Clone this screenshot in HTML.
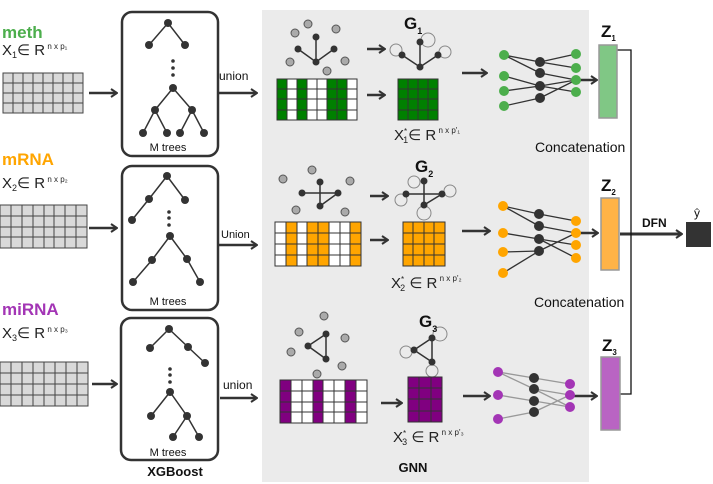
<!DOCTYPE html>
<html><head><meta charset="utf-8"><style>body{margin:0;background:#fff}svg{display:block;font-family:"Liberation Sans",sans-serif}</style></head><body>
<svg width="713" height="484" viewBox="0 0 713 484" xmlns="http://www.w3.org/2000/svg">
<defs>
<marker id="ah" markerWidth="8" markerHeight="10" refX="7" refY="5" orient="auto" markerUnits="userSpaceOnUse"><path d="M1,1 L7,5 L1,9" fill="none" stroke="#333" stroke-width="2"/></marker>
</defs>
<rect x="262" y="10" width="327" height="472" fill="#ebebeb"/>

<text x="2" y="38" font-size="17" font-weight="bold" fill="#4cae4c">meth</text>
<text x="2" y="55" font-size="15" fill="#222">X<tspan font-size="9" dy="3">1</tspan><tspan dy="-3">∈ R</tspan><tspan font-size="8" dy="-6"> n x p₁</tspan></text>
<text x="2" y="165" font-size="17" font-weight="bold" fill="#ffa500">mRNA</text>
<text x="2" y="188" font-size="15" fill="#222">X<tspan font-size="9" dy="3">2</tspan><tspan dy="-3">∈ R</tspan><tspan font-size="8" dy="-6"> n x p₂</tspan></text>
<text x="2" y="315" font-size="17" font-weight="bold" fill="#a335b5">miRNA</text>
<text x="2" y="338" font-size="15" fill="#222">X<tspan font-size="9" dy="3">3</tspan><tspan dy="-3">∈ R</tspan><tspan font-size="8" dy="-6"> n x p₃</tspan></text>

<g stroke="#444" stroke-width="1" fill="#d9d9d9">
<rect x="3" y="73" width="80" height="40"/>
<rect x="0" y="205" width="87" height="43"/>
<rect x="0" y="362" width="88" height="44"/>
</g>
<g stroke="#444" stroke-width="1">
<path d="M13,73V113M23,73V113M33,73V113M43,73V113M53,73V113M63,73V113M73,73V113M3,83H83M3,93H83M3,103H83"/>
<path d="M11,205V248M22,205V248M33,205V248M44,205V248M54,205V248M65,205V248M76,205V248M0,216H87M0,227H87M0,237H87"/>
<path d="M11,362V406M22,362V406M33,362V406M44,362V406M55,362V406M66,362V406M77,362V406M0,373H88M0,384H88M0,395H88"/>
</g>

<g stroke="#333" stroke-width="2.5" fill="none" marker-end="url(#ah)">
<path d="M89,93H117"/><path d="M89,228H117"/><path d="M92,384H117"/>
<path d="M218,93H257"/><path d="M218,245H257"/><path d="M220,398H257"/>
<path d="M367,49H385"/><path d="M367,95H385"/>
<path d="M370,240H388"/><path d="M370,196H388"/>
<path d="M381,403H402"/>
<path d="M462,73H487"/><path d="M462,231H490"/><path d="M463,396H490"/>
<path d="M580,80H597"/><path d="M580,233H598"/><path d="M574,396H597"/>
<path d="M620,234H682" stroke-width="3"/>
</g>
<text x="219" y="80" font-size="12" fill="#111">union</text>
<text x="221" y="238" font-size="11" fill="#111">Union</text>
<text x="223" y="389" font-size="12" fill="#111">union</text>

<g fill="none" stroke="#333" stroke-width="2.5">
<rect x="122" y="12" width="96" height="144" rx="10"/>
<rect x="122" y="166" width="96" height="144" rx="10"/>
<rect x="121" y="318" width="97" height="142" rx="10"/>
</g>
<g stroke="#333" stroke-width="1.5" fill="none">
<path d="M149,45L168,23L185,45M155,110L173,88L192,110M143,133L155,110L167,133M180,133L192,110L204,133"/>
<path d="M132,220L149,199L167,176L185,200M152,260L170,236L187,259M133,282L152,260M200,282L187,259"/>
<path d="M150,348L169,329L188,347L205,363M151,416L170,392L187,416M173,437L187,416L199,437"/>
</g>
<g fill="#333">
<circle cx="168" cy="23" r="4"/><circle cx="149" cy="45" r="4"/><circle cx="185" cy="45" r="4"/>
<circle cx="173" cy="61" r="1.8"/><circle cx="173" cy="68" r="1.8"/><circle cx="173" cy="75" r="1.8"/>
<circle cx="173" cy="88" r="4"/><circle cx="155" cy="110" r="4"/><circle cx="192" cy="110" r="4"/>
<circle cx="143" cy="133" r="4"/><circle cx="167" cy="133" r="4"/><circle cx="180" cy="133" r="4"/><circle cx="204" cy="133" r="4"/>
<circle cx="167" cy="176" r="4"/><circle cx="149" cy="199" r="4"/><circle cx="185" cy="200" r="4"/><circle cx="132" cy="220" r="4"/>
<circle cx="169" cy="212" r="1.8"/><circle cx="169" cy="218" r="1.8"/><circle cx="169" cy="225" r="1.8"/>
<circle cx="170" cy="236" r="4"/><circle cx="152" cy="260" r="4"/><circle cx="187" cy="259" r="4"/><circle cx="133" cy="282" r="4"/><circle cx="200" cy="282" r="4"/>
<circle cx="169" cy="329" r="4"/><circle cx="150" cy="348" r="4"/><circle cx="188" cy="347" r="4"/><circle cx="205" cy="363" r="4"/>
<circle cx="170" cy="369" r="1.8"/><circle cx="170" cy="375" r="1.8"/><circle cx="170" cy="382" r="1.8"/>
<circle cx="170" cy="392" r="4"/><circle cx="151" cy="416" r="4"/><circle cx="187" cy="416" r="4"/><circle cx="173" cy="437" r="4"/><circle cx="199" cy="437" r="4"/>
</g>
<g font-size="11" fill="#111" text-anchor="middle">
<text x="168" y="151">M trees</text><text x="168" y="305">M trees</text><text x="168" y="456">M trees</text>
</g>
<text x="175" y="476" font-size="13" font-weight="bold" text-anchor="middle" fill="#111">XGBoost</text>

<g fill="#aaa" stroke="#555" stroke-width="1">
<circle cx="295" cy="33" r="4"/><circle cx="308" cy="24" r="4"/><circle cx="336" cy="29" r="4"/><circle cx="290" cy="62" r="4"/><circle cx="345" cy="61" r="4"/><circle cx="327" cy="71" r="4"/>
<circle cx="283" cy="179" r="4"/><circle cx="312" cy="170" r="4"/><circle cx="296" cy="210" r="4"/><circle cx="350" cy="181" r="4"/><circle cx="345" cy="212" r="4"/>
<circle cx="324" cy="316" r="4"/><circle cx="299" cy="332" r="4"/><circle cx="345" cy="338" r="4"/><circle cx="291" cy="352" r="4"/><circle cx="342" cy="366" r="4"/><circle cx="317" cy="374" r="4"/>
</g>
<g stroke="#333" stroke-width="1.5" fill="none">
<path d="M316,37V62M298,49L316,62L334,49"/>
<path d="M420,42V67M402,55L420,67L438,55"/>
<path d="M302,193H338M320,182V206L338,193"/>
<path d="M406,194H442M424,181V205L442,194"/>
<path d="M326,334L308,346L326,359Z"/>
<path d="M432,338L414,350L432,362Z"/>
</g>
<g stroke="#888" stroke-width="1" fill="none">
<circle cx="428" cy="40" r="7"/><circle cx="396" cy="50" r="6"/><circle cx="445" cy="52" r="6"/>
<circle cx="414" cy="182" r="6"/><circle cx="401" cy="200" r="6"/><circle cx="450" cy="191" r="6"/><circle cx="424" cy="213" r="7"/>
<circle cx="440" cy="334" r="7"/><circle cx="406" cy="352" r="6"/><circle cx="432" cy="371" r="6"/>
</g>
<g fill="#333">
<circle cx="316" cy="37" r="3.5"/><circle cx="298" cy="49" r="3.5"/><circle cx="334" cy="49" r="3.5"/><circle cx="316" cy="62" r="3.5"/>
<circle cx="420" cy="42" r="3.5"/><circle cx="402" cy="55" r="3.5"/><circle cx="438" cy="55" r="3.5"/><circle cx="420" cy="67" r="3.5"/>
<circle cx="320" cy="182" r="3.5"/><circle cx="302" cy="193" r="3.5"/><circle cx="338" cy="193" r="3.5"/><circle cx="320" cy="206" r="3.5"/>
<circle cx="424" cy="181" r="3.5"/><circle cx="406" cy="194" r="3.5"/><circle cx="442" cy="194" r="3.5"/><circle cx="424" cy="205" r="3.5"/>
<circle cx="326" cy="334" r="3.5"/><circle cx="308" cy="346" r="3.5"/><circle cx="326" cy="359" r="3.5"/>
<circle cx="432" cy="338" r="3.5"/><circle cx="414" cy="350" r="3.5"/><circle cx="432" cy="362" r="3.5"/>
</g>
<g font-size="17" font-weight="bold" fill="#111">
<text x="404" y="29">G<tspan font-size="9" dy="5">1</tspan></text>
<text x="415" y="172">G<tspan font-size="9" dy="5">2</tspan></text>
<text x="419" y="327">G<tspan font-size="9" dy="5">3</tspan></text>
</g>

<g stroke="#333" stroke-width="1">
<rect x="277" y="79" width="80" height="41" fill="#fff"/>
<g fill="#008000"><rect x="277" y="79" width="10" height="41"/><rect x="297" y="79" width="10" height="41"/><rect x="327" y="79" width="10" height="41"/><rect x="337" y="79" width="10" height="41"/></g>
<path d="M287,79V120M297,79V120M307,79V120M317,79V120M327,79V120M337,79V120M347,79V120M277,89H357M277,99H357M277,110H357" fill="none"/>
<rect x="398" y="79" width="40" height="41" fill="#008000"/>
<path d="M408,79V120M418,79V120M428,79V120M398,89H438M398,99H438M398,110H438" fill="none"/>

<rect x="275" y="222" width="86" height="44" fill="#fff"/>
<g fill="#ffa500"><rect x="286" y="222" width="11" height="44"/><rect x="307" y="222" width="11" height="44"/><rect x="318" y="222" width="11" height="44"/><rect x="350" y="222" width="11" height="44"/></g>
<path d="M286,222V266M297,222V266M307,222V266M318,222V266M329,222V266M340,222V266M350,222V266M275,233H361M275,244H361M275,255H361" fill="none"/>
<rect x="403" y="222" width="42" height="44" fill="#ffa500"/>
<path d="M413,222V266M424,222V266M434,222V266M403,233H445M403,244H445M403,255H445" fill="none"/>

<rect x="280" y="380" width="87" height="43" fill="#fff"/>
<g fill="#800080"><rect x="280" y="380" width="11" height="43"/><rect x="313" y="380" width="10" height="43"/><rect x="345" y="380" width="11" height="43"/></g>
<path d="M291,380V423M302,380V423M313,380V423M323,380V423M334,380V423M345,380V423M356,380V423M280,391H367M280,402H367M280,412H367" fill="none"/>
<rect x="408" y="377" width="34" height="45" fill="#800080"/>
<path d="M419,377V422M431,377V422M408,388H442M408,399H442M408,411H442" fill="none"/>
</g>
<g font-size="15" fill="#222">
<text x="394" y="140">X<tspan font-size="8" dy="-6">*</tspan><tspan font-size="9" dx="-4" dy="9">1</tspan><tspan dy="-3">∈ R</tspan><tspan font-size="8" dy="-7"> n x p'₁</tspan></text>
<text x="391" y="288">X<tspan font-size="8" dy="-6">*</tspan><tspan font-size="9" dx="-4" dy="9">2</tspan><tspan dy="-3"> ∈ R</tspan><tspan font-size="8" dy="-7"> n x p'₂</tspan></text>
<text x="393" y="442">X<tspan font-size="8" dy="-6">*</tspan><tspan font-size="9" dx="-4" dy="9">3</tspan><tspan dy="-3"> ∈ R</tspan><tspan font-size="8" dy="-7"> n x p'₃</tspan></text>
</g>
<text x="413" y="472" font-size="13" font-weight="bold" text-anchor="middle" fill="#111">GNN</text>

<g stroke="#333" stroke-width="1.3">
<path d="M504,55L540,73M504,55L540,62M504,76L540,86M504,91L540,86M504,106L540,98M540,62L576,54M540,62L576,68M540,73L576,80M540,86L576,80M540,86L576,92M540,98L576,80"/>
<path d="M503,206L539,214M503,206L539,226M503,233L539,239M503,252L539,251M503,273L539,251M539,214L576,221M539,226L576,233M539,239L576,258M539,239L576,245M539,251L576,233"/>
</g>
<g stroke="#999" stroke-width="1.3">
<path d="M498,372L534,378M498,372L534,389M498,395L534,401M498,419L534,412M534,378L570,384M534,389L570,395M534,401L570,407M534,412L570,395M534,389L570,407"/>
</g>
<g fill="#4cae4c"><circle cx="504" cy="55" r="5"/><circle cx="504" cy="76" r="5"/><circle cx="504" cy="91" r="5"/><circle cx="504" cy="106" r="5"/><circle cx="576" cy="54" r="5"/><circle cx="576" cy="68" r="5"/><circle cx="576" cy="80" r="5"/><circle cx="576" cy="92" r="5"/></g>
<g fill="#ffa500"><circle cx="503" cy="206" r="5"/><circle cx="503" cy="233" r="5"/><circle cx="503" cy="252" r="5"/><circle cx="503" cy="273" r="5"/><circle cx="576" cy="221" r="5"/><circle cx="576" cy="233" r="5"/><circle cx="576" cy="245" r="5"/><circle cx="576" cy="258" r="5"/></g>
<g fill="#a335b5"><circle cx="498" cy="372" r="5"/><circle cx="498" cy="395" r="5"/><circle cx="498" cy="419" r="5"/><circle cx="570" cy="384" r="5"/><circle cx="570" cy="395" r="5"/><circle cx="570" cy="407" r="5"/></g>
<g fill="#333">
<circle cx="540" cy="62" r="5"/><circle cx="540" cy="73" r="5"/><circle cx="540" cy="86" r="5"/><circle cx="540" cy="98" r="5"/>
<circle cx="539" cy="214" r="5"/><circle cx="539" cy="226" r="5"/><circle cx="539" cy="239" r="5"/><circle cx="539" cy="251" r="5"/>
<circle cx="534" cy="378" r="5"/><circle cx="534" cy="389" r="5"/><circle cx="534" cy="401" r="5"/><circle cx="534" cy="412" r="5"/>
</g>

<path d="M617,50H631V394H620" fill="none" stroke="#111" stroke-width="1.3"/>
<g stroke="#999" stroke-width="1.5">
<rect x="599" y="45" width="18" height="73" fill="#80c785"/>
<rect x="601" y="198" width="18" height="72" fill="#ffb347"/>
<rect x="601" y="357" width="19" height="73" fill="#b964c3"/>
</g>
<g font-size="17" font-weight="bold" fill="#111">
<text x="601" y="37">Z<tspan font-size="8" dy="4">1</tspan></text>
<text x="601" y="191">Z<tspan font-size="8" dy="4">2</tspan></text>
<text x="602" y="351">Z<tspan font-size="8" dy="4">3</tspan></text>
</g>
<text x="535" y="152" font-size="14" fill="#111">Concatenation</text>
<text x="534" y="307" font-size="14" fill="#111">Concatenation</text>
<text x="642" y="227" font-size="12" font-weight="bold" fill="#111">DFN</text>
<text x="694" y="217" font-size="12" fill="#111">ŷ</text>
<rect x="686" y="222" width="25" height="25" fill="#333"/>
</svg>
</body></html>
